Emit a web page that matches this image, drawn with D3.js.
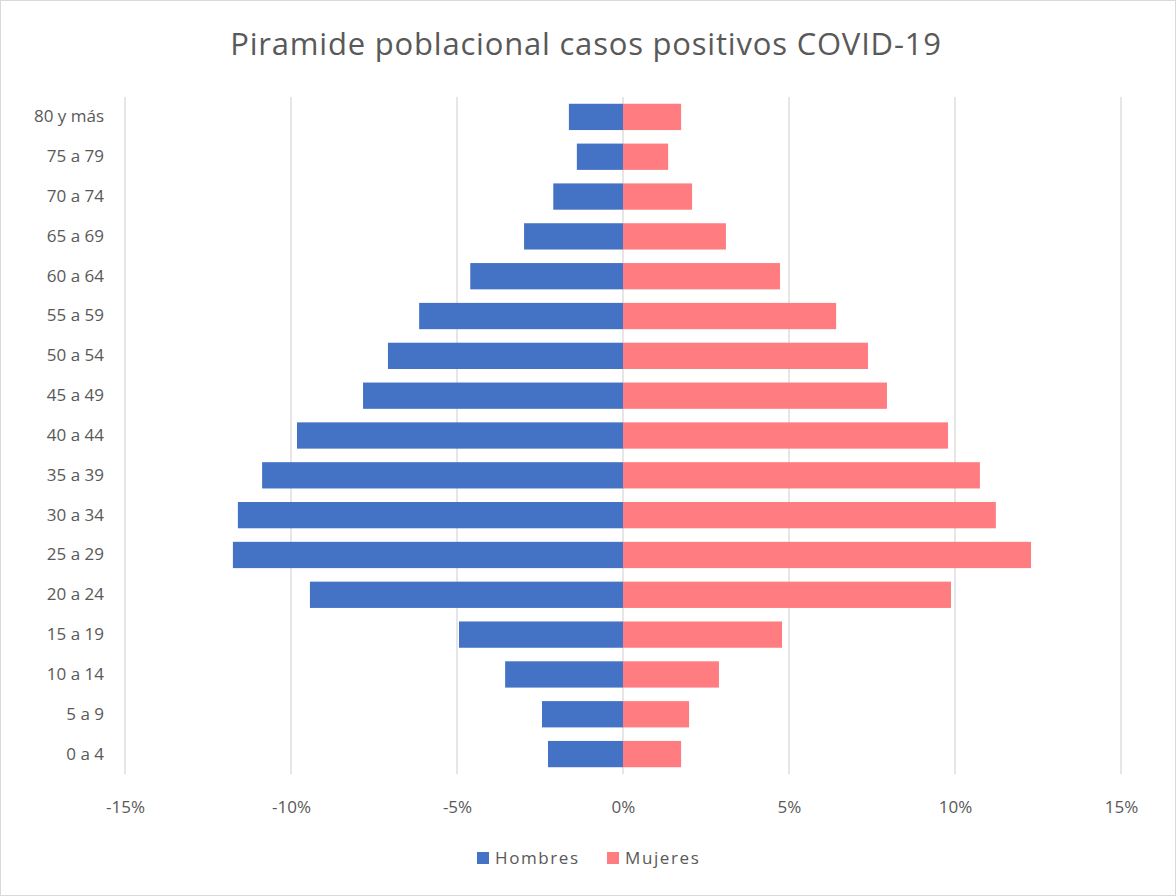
<!DOCTYPE html>
<html lang="es">
<head>
<meta charset="utf-8">
<style>
  body { margin: 0; background: #fff; }
  svg text { font-family: "Open Sans", "Noto Sans", sans-serif; fill: #595959; }
</style>
</head>
<body>
<div id="chart"></div>
<script src="https://d3js.org/d3.v7.min.js"></script>
<script>
// grupos de edad, de arriba hacia abajo
var grupos = ["80 y más", "75 a 79", "70 a 74", "65 a 69", "60 a 64", "55 a 59", "50 a 54",
  "45 a 49", "40 a 44", "35 a 39", "30 a 34", "25 a 29", "20 a 24", "15 a 19",
  "10 a 14", "5 a 9", "0 a 4"];
// porcentajes (hombres se dibujan hacia la izquierda)
var hombres = [1.63, 1.39, 2.1, 2.98, 4.6, 6.14, 7.08, 7.83, 9.82, 10.87, 11.6, 11.75,
  9.43, 4.94, 3.55, 2.44, 2.26];
var mujeres = [1.75, 1.36, 2.08, 3.1, 4.73, 6.42, 7.38, 7.95, 9.79, 10.75, 11.23, 12.29,
  9.88, 4.79, 2.89, 1.99, 1.75];
var ticks = [-15, -10, -5, 0, 5, 10, 15];
var series = ["Hombres", "Mujeres"];
var colores = ["#4472C4", "#FF7C80"];

var width = 1176, height = 896;
var margin = { top: 97, right: 55, bottom: 122, left: 125 };

var svg = d3.select("#chart").append("svg")
  .attr("width", width)
  .attr("height", height);

svg.append("rect")
  .attr("x", 0.5).attr("y", 0.5)
  .attr("width", width - 1).attr("height", height - 1)
  .attr("fill", "#fff").attr("stroke", "#d9d9d9");

var x = d3.scaleLinear()
  .domain([-15, 15])
  .range([margin.left, width - margin.right]);

var y = d3.scaleBand()
  .domain(grupos)
  .range([margin.top, height - margin.bottom])
  .paddingInner(0.34)
  .paddingOuter(0.17);

// lineas de cuadricula
svg.append("g")
  .selectAll("line")
  .data(ticks)
  .enter()
  .append("line")
  .attr("x1", function (d) { return x(d); })
  .attr("x2", function (d) { return x(d); })
  .attr("y1", margin.top)
  .attr("y2", height - margin.bottom)
  .attr("stroke", "#d9d9d9")
  .attr("stroke-width", 1.3);

// barras hombres
svg.append("g")
  .selectAll("rect")
  .data(grupos)
  .enter()
  .append("rect")
  .attr("x", function (d, i) { return x(-hombres[i]); })
  .attr("y", function (d) { return y(d); })
  .attr("width", function (d, i) { return x(0) - x(-hombres[i]); })
  .attr("height", y.bandwidth())
  .attr("fill", colores[0]);

// barras mujeres
svg.append("g")
  .selectAll("rect")
  .data(grupos)
  .enter()
  .append("rect")
  .attr("x", x(0))
  .attr("y", function (d) { return y(d); })
  .attr("width", function (d, i) { return x(mujeres[i]) - x(0); })
  .attr("height", y.bandwidth())
  .attr("fill", colores[1]);

// eje y
var yAxis = svg.append("g")
  .attr("transform", "translate(" + (margin.left - 21) + ",0)")
  .call(d3.axisLeft(y).tickSize(0).tickPadding(0));
yAxis.select(".domain").remove();
yAxis.selectAll("text")
  .attr("font-size", "17px")
  .attr("fill", "#595959");

// eje x
var xAxis = svg.append("g")
  .attr("transform", "translate(0," + (height - margin.bottom) + ")")
  .call(d3.axisBottom(x).tickValues(ticks).tickSize(0).tickPadding(27)
    .tickFormat(function (d) { return d + "%"; }));
xAxis.select(".domain").remove();
xAxis.selectAll("text")
  .attr("font-size", "17px")
  .attr("fill", "#595959");

// titulo
svg.append("text")
  .attr("x", 586)
  .attr("y", 55)
  .attr("text-anchor", "middle")
  .attr("font-size", "31px")
  .attr("letter-spacing", "0.8px")
  .text("Piramide poblacional casos positivos COVID-19");

// leyenda
var leyenda = svg.append("g")
  .attr("transform", "translate(477,858)");
var items = leyenda.selectAll("g")
  .data(series)
  .enter()
  .append("g")
  .attr("transform", function (d, i) { return "translate(" + (i * 130) + ",0)"; });
items.append("rect")
  .attr("x", 0).attr("y", -6)
  .attr("width", 12).attr("height", 12)
  .attr("fill", function (d, i) { return colores[i]; });
items.append("text")
  .attr("x", 18)
  .attr("dy", "0.35em")
  .attr("font-size", "17px")
  .attr("letter-spacing", "1.6px")
  .text(function (d) { return d; });
</script>
</body>
</html>
